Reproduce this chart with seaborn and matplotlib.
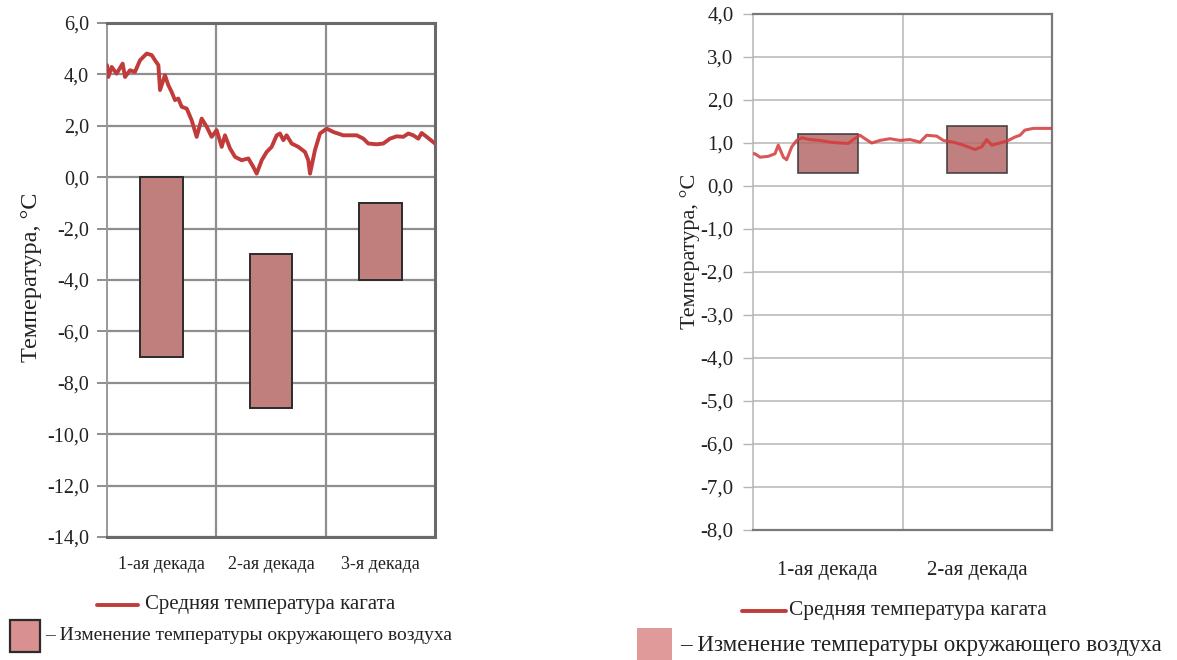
import matplotlib
matplotlib.use("Agg")
import matplotlib.pyplot as plt
from matplotlib.lines import Line2D
from matplotlib.patches import Rectangle
import seaborn as sns
import numpy as np

sns.set_theme(style="white")
plt.rcParams['font.family'] = ['Liberation Serif', 'DejaVu Serif']

# ---------------- data ----------------
decades_left = ["1-ая декада", "2-ая декада", "3-я декада"]
decades_right = ["1-ая декада", "2-ая декада"]

# left chart: mean pile temperature (day within month, °C)
left_day = [0.0, 0.12, 0.43, 0.88, 1.43, 1.65, 2.10, 2.56, 3.02, 3.63, 4.09, 4.39, 4.70,
            4.85, 5.30, 5.61, 5.91, 6.22, 6.52, 6.83, 7.29, 7.74, 8.20, 8.66, 9.12, 9.57,
            10.03, 10.49, 10.79, 11.25, 11.71, 12.32, 12.93, 13.38, 13.69, 14.15, 14.60,
            15.06, 15.52, 15.82, 16.13, 16.43, 16.89, 17.50, 18.11, 18.41, 18.57, 19.02,
            19.48, 20.09, 20.70, 21.61, 22.84, 23.45, 23.90, 24.67, 25.27, 25.88, 26.49,
            27.10, 27.56, 28.01, 28.47, 28.78, 29.24, 30.0]
left_temp = [4.36, 3.90, 4.29, 4.03, 4.42, 3.90, 4.16, 4.10, 4.55, 4.81, 4.75, 4.55, 4.36,
             3.39, 3.97, 3.58, 3.32, 3.00, 3.06, 2.74, 2.67, 2.22, 1.57, 2.28, 1.96, 1.57,
             1.83, 1.18, 1.63, 1.12, 0.79, 0.66, 0.73, 0.40, 0.14, 0.66, 0.98, 1.18, 1.63,
             1.70, 1.44, 1.63, 1.31, 1.18, 0.98, 0.66, 0.14, 1.05, 1.70, 1.89, 1.76, 1.63,
             1.63, 1.50, 1.31, 1.28, 1.31, 1.50, 1.59, 1.57, 1.70, 1.63, 1.50, 1.72, 1.57,
             1.31]
# left chart: ambient air temperature range per decade
left_air_hi = [0.0, -3.0, -1.0]
left_air_lo = [-7.0, -9.0, -4.0]

# right chart
right_day = [0.0, 0.13, 0.47, 1.02, 1.47, 1.69, 2.03, 2.25, 2.59, 2.92, 3.26, 3.81, 4.48,
             5.15, 5.82, 6.37, 6.71, 7.16, 7.49, 7.94, 8.49, 9.16, 9.83, 10.50, 11.17,
             11.62, 12.29, 12.73, 13.40, 14.07, 14.85, 15.30, 15.63, 15.97, 16.52, 17.08,
             17.53, 17.86, 18.19, 18.75, 19.42, 20.0]
right_temp = [0.75, 0.75, 0.67, 0.69, 0.75, 0.95, 0.67, 0.61, 0.91, 1.06, 1.12, 1.08, 1.06,
              1.02, 1.00, 0.99, 1.08, 1.18, 1.10, 1.00, 1.06, 1.10, 1.06, 1.08, 1.02,
              1.18, 1.16, 1.06, 1.02, 0.95, 0.85, 0.91, 1.08, 0.95, 1.00, 1.06,
              1.14, 1.18, 1.30, 1.34, 1.34, 1.34]
right_air_hi = [1.2, 1.4]
right_air_lo = [0.3, 0.3]

left_yticks = [6, 4, 2, 0, -2, -4, -6, -8, -10, -12, -14]
right_yticks = [4, 3, 2, 1, 0, -1, -2, -3, -4, -5, -6, -7, -8]

line_label = "Средняя температура кагата"
bar_label = "– Изменение температуры окружающего воздуха"
ylabel = "Температура, °С"

LINE_C = "#C23B3B"
BAR_C = "#C07F7D"
TXT = "#222222"


def fmt(v):
    return f"{v:.1f}".replace(".", ",")


fig = plt.figure(figsize=(11.77, 6.6), dpi=100)
W, H = 1177, 660


def px_axes(x0, y0, x1, y1):
    return fig.add_axes([x0 / W, 1 - y1 / H, (x1 - x0) / W, (y1 - y0) / H])


# ---------------- left chart ----------------
axL = px_axes(107, 23, 435, 537)
n = len(decades_left)
centers = [10 * i + 5 for i in range(n)]
axL.bar(centers, np.array(left_air_hi) - np.array(left_air_lo), bottom=left_air_lo,
        width=3.9, color=BAR_C, edgecolor="#2b2b2b", linewidth=1.4, zorder=2)
sns.lineplot(x=left_day, y=left_temp, ax=axL, color=LINE_C, linewidth=2.8,
             zorder=3, estimator=None, sort=False)
axL.set_xlim(0, 10 * n)
axL.set_ylim(-14, 6)
axL.set_yticks(left_yticks)
axL.set_yticklabels([fmt(v) for v in left_yticks], fontsize=14.5, color=TXT)
axL.set_xticks(centers)
axL.set_xticklabels(decades_left, fontsize=13, color=TXT)
for xv in range(10, 10 * n, 10):
    axL.axvline(xv, color="#8E8E8E", lw=1.6, zorder=1)
axL.yaxis.grid(True, color="#8E8E8E", lw=1.6, zorder=1)
axL.set_axisbelow(True)
axL.tick_params(axis="y", length=7, width=1.4, color="#8E8E8E", pad=6, left=True)
axL.tick_params(axis="x", length=0, pad=14)
for s in ["top", "right", "bottom"]:
    axL.spines[s].set_color("#6a6a6a")
    axL.spines[s].set_linewidth(2.2)
axL.spines["left"].set_color("#9a9a9a")
axL.spines["left"].set_linewidth(1.4)
axL.set_ylabel(ylabel, fontsize=17.5, color=TXT)
axL.yaxis.set_label_coords(-0.197, 0.505)

# ---------------- right chart ----------------
axR = px_axes(753, 14, 1052, 530)
m = len(decades_right)
centersR = [10 * i + 5 for i in range(m)]
axR.bar(centersR, np.array(right_air_hi) - np.array(right_air_lo), bottom=right_air_lo,
        width=4.0, color="#B56A6A", alpha=0.85, edgecolor="#3a3a3a", linewidth=1.3, zorder=2)
sns.lineplot(x=right_day, y=right_temp, ax=axR, color="#D43A3A", linewidth=2.2,
             alpha=0.85, zorder=3, estimator=None, sort=False)
axR.set_xlim(0, 10 * m)
axR.set_ylim(-8, 4)
axR.set_yticks(right_yticks)
axR.set_yticklabels([fmt(v) for v in right_yticks], fontsize=15, color=TXT)
axR.set_xticks(centersR)
axR.set_xticklabels(decades_right, fontsize=15, color=TXT)
for xv in range(10, 10 * m, 10):
    axR.axvline(xv, color="#B5B5B5", lw=1.1, zorder=1)
axR.yaxis.grid(True, color="#B5B5B5", lw=1.1, zorder=1)
axR.set_axisbelow(True)
axR.tick_params(axis="y", length=7, width=1.0, color="#B5B5B5", pad=7, left=True)
axR.tick_params(axis="x", length=0, pad=22)
for s in ["top", "right", "bottom"]:
    axR.spines[s].set_color("#7a7a7a")
    axR.spines[s].set_linewidth(1.6)
axR.spines["left"].set_color("#B5B5B5")
axR.spines["left"].set_linewidth(1.1)
axR.set_ylabel(ylabel, fontsize=16, color=TXT)
axR.yaxis.set_label_coords(-0.178, 0.54)

# ---------------- legends (figure pixel coords) ----------------
def fx(x):
    return x / W


def fy(y):
    return 1 - y / H


# left legend
fig.add_artist(Line2D([fx(97), fx(138)], [fy(605), fy(605)], color=LINE_C, lw=2.8))
fig.text(fx(145), fy(605), line_label, fontsize=15, va="center", ha="left", color=TXT)
fig.add_artist(Rectangle((fx(10), fy(652)), fx(30), 32 / H, facecolor="#D99090",
                         edgecolor="#2b2b2b", lw=1.6))
fig.text(fx(45), fy(636), bar_label, fontsize=14, va="center", ha="left", color=TXT)

# right legend
fig.add_artist(Line2D([fx(742), fx(786)], [fy(611), fy(611)], color=LINE_C, lw=2.8))
fig.text(fx(789), fy(611), line_label, fontsize=15.4, va="center", ha="left", color=TXT)
fig.add_artist(Rectangle((fx(637), fy(660)), fx(35), 32 / H, facecolor="#E09A9A",
                         edgecolor="none", lw=0))
fig.text(fx(680), fy(646), bar_label, fontsize=16.6, va="center", ha="left", color=TXT)

fig.savefig("out.png", dpi=100)
